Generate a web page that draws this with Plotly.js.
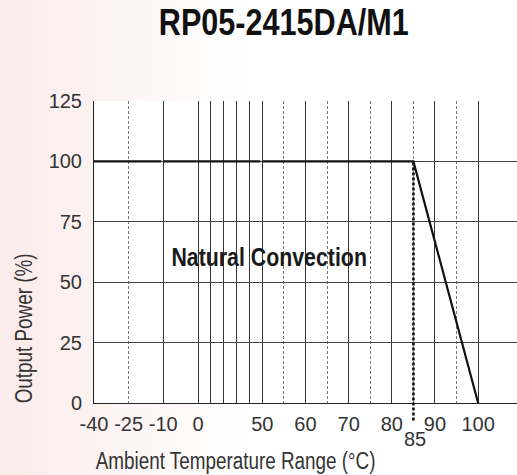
<!DOCTYPE html>
<html><head><meta charset="utf-8">
<script src="https://cdn.plot.ly/plotly-3.0.1.min.js"></script>
<style>
html,body{margin:0;padding:0;}
body{width:517px;height:475px;overflow:hidden;background:linear-gradient(to right,#fcebeb 0%,#fdf4f4 22%,#ffffff 48%);}
#chart{width:517px;height:475px;}
</style></head><body><div id="chart"></div>
<script>
// ---- data ----
const chartTitle = 'RP05-2415DA/M1';
const xTitle = 'Ambient Temperature Range (°C)';
const yTitle = 'Output Power (%)';
const regionLabel = 'Natural Convection';
const curveTemp = [-40, 85, 100];
const curvePower = [100, 100, 0];
const deratingStart = 85;
const yTickVals = [0, 25, 50, 75, 100, 125];
// broken temperature scale: each piece has its own axis
const pieceRanges = [[-40, -10], [-10, 0], [0, 50], [50, 109]];
const pieceTickVals = [[-40, -25], [-10, 0], [0, 10, 20, 30, 40, 50], [50, 60, 70, 80, 90, 100]];
const pieceTickText = [['-40', '-25'], ['-10', '0'], ['', '', '', '', '', ''], ['50', '60', '70', '80', '90', '100']];
const pieceDashed = [[], [], [], [55, 65, 75, 85, 95]];

// ---- layout helpers ----
const FONT = 'Liberation Sans, Arial, Helvetica, sans-serif';
const PLOT_W = 423;
const pieceDomains = [[0, 0.1638], [0.1638, 0.2459], [0.2459, 0.3979], [0.3979, 1]];
const yMax = 125;
const EDGE_PX = 2; // pieces overlap a little so boundary grid lines are interior

function clipCurve(xs, ys, lo, hi) {
  const ox = [], oy = [];
  for (let i = 0; i < xs.length - 1; i++) {
    const x0 = xs[i], x1 = xs[i + 1], y0 = ys[i], y1 = ys[i + 1];
    const a = Math.max(lo, Math.min(x0, x1)), b = Math.min(hi, Math.max(x0, x1));
    if (a > b) continue;
    const f = x => (x1 === x0 ? y0 : y0 + (y1 - y0) * (x - x0) / (x1 - x0));
    ox.push(a, b); oy.push(f(a), f(b));
  }
  return [ox, oy];
}

const traces = [];
const layout = {
  width: 517, height: 475,
  margin: {l: 94, r: 0, t: 101, b: 72, pad: 0},
  paper_bgcolor: 'rgba(0,0,0,0)',
  plot_bgcolor: '#ffffff',
  showlegend: false,
  font: {family: FONT, color: '#333'},
  title: {text: chartTitle, x: 0.549, xref: 'container', xanchor: 'center', y: 0.952, yref: 'container', yanchor: 'middle',
          font: {family: FONT, size: 36, color: '#111', weight: 'bold'}},
  yaxis: {range: [0, yMax], tickmode: 'array', tickvals: yTickVals, ticktext: yTickVals.map(String),
          showgrid: true, gridcolor: '#444', gridwidth: 1, zeroline: false,
          showline: true, linecolor: '#222', linewidth: 1, ticks: '', ticklabelstandoff: 7,
          tickfont: {family: FONT, size: 20, color: '#333'}, anchor: 'x', fixedrange: true},
  shapes: [], annotations: []
};

const nPieces = pieceRanges.length;
pieceRanges.forEach((rng, i) => {
  const key = i === 0 ? 'xaxis' : 'xaxis' + (i + 1);
  const ref = i === 0 ? 'x' : 'x' + (i + 1);
  const dom = pieceDomains[i];
  const pxPerUnit = (dom[1] - dom[0]) * PLOT_W / (rng[1] - rng[0]);
  const padL = i === 0 ? 0 : EDGE_PX, padR = i === nPieces - 1 ? 0 : EDGE_PX;
  const ax = {
    domain: [dom[0] - padL / PLOT_W, dom[1] + padR / PLOT_W],
    range: [rng[0] - padL / pxPerUnit, rng[1] + padR / pxPerUnit], anchor: 'y',
    tickmode: 'array', tickvals: pieceTickVals[i], ticktext: pieceTickText[i],
    showgrid: true, gridcolor: i === 0 ? '#777' : '#333', gridwidth: 1,
    griddash: i === 0 ? '3px,2px' : 'solid',
    zeroline: false, showline: true, linecolor: '#222', linewidth: 1,
    ticks: '', ticklabelstandoff: 3,
    tickfont: {family: FONT, size: 20, color: '#333'}, fixedrange: true
  };
  if (pieceDashed[i].length) {
    ax.minor = {tickmode: 'array', tickvals: pieceDashed[i], showgrid: true,
                gridcolor: '#777', gridwidth: 1, griddash: '3px,2px', ticks: ''};
  }
  layout[key] = ax;
  const [cx, cy] = clipCurve(curveTemp, curvePower, rng[0], rng[1]);
  traces.push({x: cx, y: cy, xaxis: ref, yaxis: 'y', type: 'scatter', mode: 'lines',
               line: {color: '#111', width: 2.2}, hoverinfo: 'skip'});
});

// bold dotted marker of derating start, extending below the axis
layout.shapes.push({type: 'line', xref: 'x4', yref: 'paper', x0: deratingStart, x1: deratingStart,
  y0: -0.058, y1: curvePower[0] / yMax, line: {color: '#111', width: 2.6, dash: '3px,2px'}, layer: 'above'});

layout.annotations.push(
  {text: String(deratingStart), xref: 'x4', yref: 'paper', x: deratingStart, xshift: 2, y: -0.118, showarrow: false,
   xanchor: 'center', yanchor: 'middle', font: {family: FONT, size: 20, color: '#333'}},
  {text: regionLabel, xref: 'paper', yref: 'paper', x: 0.4137, y: 0.4834, showarrow: false,
   xanchor: 'center', yanchor: 'middle', font: {family: FONT, size: 26, color: '#1a1a1a', weight: 'bold'}},
  {text: xTitle, xref: 'paper', yref: 'paper', x: 0.3345, y: -0.193, showarrow: false,
   xanchor: 'center', yanchor: 'middle', font: {family: FONT, size: 23, color: '#333'}},
  {text: yTitle, xref: 'paper', yref: 'paper', x: -0.1655, y: 0.249, showarrow: false, textangle: -90,
   xanchor: 'center', yanchor: 'middle', font: {family: FONT, size: 23, color: '#333'}}
);

// condensed lettering for title and word labels (glyphs narrowed, text stays text)
function condense(gd) {
  gd.querySelectorAll('text').forEach(t => {
    const s = (t.textContent || '').trim();
    if (!s || /^-?\d+$/.test(s)) return;
    const f = t.classList.contains('gtitle') ? 0.85 : 0.82;
    const w = t.getComputedTextLength();
    if (w > 0) {
      t.setAttribute('textLength', (w * f).toFixed(2));
      t.setAttribute('lengthAdjust', 'spacingAndGlyphs');
    }
  });
}

Plotly.newPlot('chart', traces, layout, {staticPlot: true, displayModeBar: false})
  .then(gd => condense(gd));
</script></body></html>
